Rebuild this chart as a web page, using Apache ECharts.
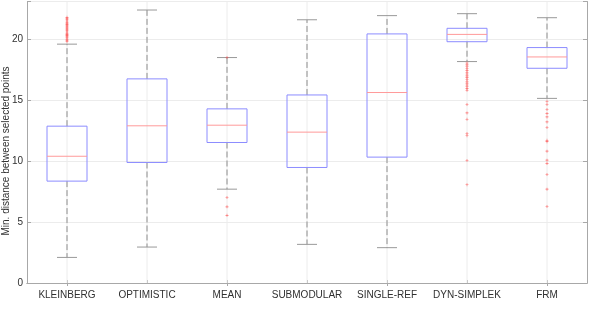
<!DOCTYPE html>
<html>
<head>
<meta charset="utf-8">
<script src="https://cdn.jsdelivr.net/npm/echarts@6/dist/echarts.min.js"></script>
<style>html,body{margin:0;padding:0;background:#fff}#c{width:592px;height:318px}</style>
</head>
<body>
<div id="c"></div>
<script>
var categories = ['KLEINBERG','OPTIMISTIC','MEAN','SUBMODULAR','SINGLE-REF','DYN-SIMPLEK','FRM'];
var whiskerLow  = [2.10, 2.95, 7.70, 3.17, 2.90, 18.17, 15.15];
var q1          = [8.36, 9.89, 11.53, 9.48, 10.33, 19.80, 17.62];
var medians     = [10.40, 12.90, 12.95, 12.38, 15.63, 20.40, 18.55];
var q3          = [12.87, 16.75, 14.29, 15.43, 20.44, 20.90, 19.32];
var whiskerHigh = [19.60, 22.40, 18.50, 21.60, 21.94, 22.10, 21.77];

var kleinbergOutliers = [19.8,19.9,20.0,20.1,20.2,20.3,20.4,20.5,20.6,20.7,20.8,20.9,21.0,21.1,21.2,21.3,21.4,21.5,21.6,21.7,21.8];
var meanOutliers = [18.5, 7.02, 6.25, 5.55];
var dynSimplekOutliers = [18.05,17.9,17.75,17.6,17.45,17.3,17.15,17.0,16.85,16.7,16.55,16.4,16.25,16.1,15.95,15.82,14.65,13.96,13.44,12.27,12.08,10.05,8.06];
var frmOutliers = [14.92,14.65,14.24,13.9,13.63,13.22,12.76,11.72,11.6,10.82,10.08,9.8,8.9,7.7,6.28];

var yTicks = [0, 5, 10, 15, 20];
var yMax = 23.1;
var yLabel = 'Min. distance between selected points';

var boxData = categories.map(function (c, i) {
  return [i, whiskerLow[i], q1[i], medians[i], q3[i], whiskerHigh[i]];
});
var outlierData = [];
kleinbergOutliers.forEach(function (v) { outlierData.push([0, v]); });
meanOutliers.forEach(function (v) { outlierData.push([2, v]); });
dynSimplekOutliers.forEach(function (v) { outlierData.push([5, v]); });
frmOutliers.forEach(function (v) { outlierData.push([6, v]); });

var FONT = 'Liberation Sans, Arial, Helvetica, sans-serif';
var axisColor = '#a8a8a8';
var textColor = '#303030';

function renderBox(params, api) {
  var i = api.value(0);
  var band = api.size([1, 0])[0];
  var x = api.coord([i, 0])[0];
  var yLo = api.coord([i, api.value(1)])[1];
  var yQ1 = api.coord([i, api.value(2)])[1];
  var yMed = api.coord([i, api.value(3)])[1];
  var yQ3 = api.coord([i, api.value(4)])[1];
  var yHi = api.coord([i, api.value(5)])[1];
  var yTop = api.coord([i, yMax])[1];
  var yBot = api.coord([i, 0])[1];
  var hb = band * 0.25, hc = band * 0.125;
  var dashStyle = {stroke: '#8e8e8e', lineWidth: 1, lineDash: [6, 3]};
  var solid = {stroke: '#999999', lineWidth: 1};
  return {
    type: 'group',
    children: [
      {type: 'line', shape: {x1: x, y1: yTop, x2: x, y2: yBot}, style: {stroke: '#ececec', lineWidth: 1}},
      {type: 'line', shape: {x1: x, y1: yQ3, x2: x, y2: yHi}, style: dashStyle},
      {type: 'line', shape: {x1: x, y1: yQ1, x2: x, y2: yLo}, style: dashStyle},
      {type: 'line', shape: {x1: x - hc, y1: yHi, x2: x + hc, y2: yHi}, style: solid},
      {type: 'line', shape: {x1: x - hc, y1: yLo, x2: x + hc, y2: yLo}, style: solid},
      {type: 'rect', shape: {x: x - hb, y: yQ3, width: 2 * hb, height: yQ1 - yQ3}, style: {fill: 'none', stroke: '#8c8cff', lineWidth: 1}},
      {type: 'line', shape: {x1: x - hb, y1: yMed, x2: x + hb, y2: yMed}, style: {stroke: '#ff9a9a', lineWidth: 1}}
    ]
  };
}

var chart = echarts.init(document.getElementById('c'), null, {renderer: 'canvas'});
chart.setOption({
  animation: false,
  backgroundColor: '#ffffff',
  grid: {left: 27, right: 5, top: 1.5, bottom: 35, containLabel: false},
  xAxis: [{
    type: 'category', data: categories, boundaryGap: true, position: 'bottom',
    axisLine: {show: true, lineStyle: {color: axisColor, width: 1}},
    axisTick: {show: true, inside: true, alignWithLabel: true, length: 3, lineStyle: {color: axisColor}},
    axisLabel: {interval: 0, color: textColor, fontSize: 10, fontFamily: FONT, margin: 7},
    splitLine: {show: false}
  }, {
    type: 'category', data: categories, boundaryGap: true, position: 'top',
    axisLine: {show: true, lineStyle: {color: axisColor, width: 1}},
    axisTick: {show: true, inside: true, alignWithLabel: true, length: 3, lineStyle: {color: axisColor}},
    axisLabel: {show: false},
    splitLine: {show: false}
  }],
  yAxis: [{
    type: 'value', min: 0, max: yMax, interval: 5, position: 'left',
    axisLine: {show: true, lineStyle: {color: axisColor, width: 1}},
    axisTick: {show: true, inside: true, length: 4, lineStyle: {color: axisColor}},
    axisLabel: {color: textColor, fontSize: 10, fontFamily: FONT, margin: 4,
      formatter: function (v) { return yTicks.indexOf(v) >= 0 ? String(v) : ''; }},
    splitLine: {show: true, lineStyle: {color: '#ececec', width: 1}}
  }, {
    type: 'value', min: 0, max: yMax, interval: 5, position: 'right',
    axisLine: {show: true, lineStyle: {color: axisColor, width: 1}},
    axisTick: {show: true, inside: true, length: 4, lineStyle: {color: axisColor}},
    axisLabel: {show: false},
    splitLine: {show: false}
  }],
  graphic: [{
    type: 'text', x: 6, y: 151, rotation: Math.PI / 2,
    style: {text: yLabel, fontSize: 10, fontFamily: FONT, fill: textColor, textAlign: 'center', textVerticalAlign: 'middle'}
  }],
  series: [{
    type: 'custom', xAxisIndex: 0, yAxisIndex: 0,
    renderItem: renderBox, data: boxData, z: 2, silent: true
  }, {
    type: 'scatter', xAxisIndex: 0, yAxisIndex: 0, data: outlierData, z: 3, silent: true,
    symbol: 'path://M4,0H6V4H10V6H6V10H4V6H0V4H4Z', symbolSize: 3,
    itemStyle: {color: '#ff4040', opacity: 0.75}
  }]
});
</script>
</body>
</html>
